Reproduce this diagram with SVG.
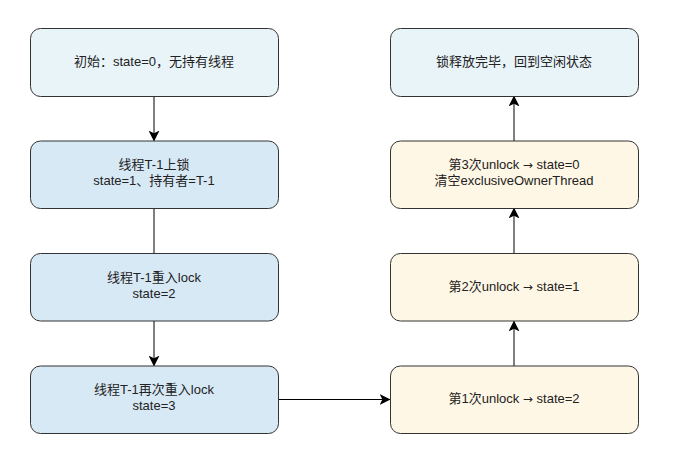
<svg xmlns="http://www.w3.org/2000/svg" width="692" height="461" viewBox="0 0 692 461">
<style>
.n{stroke:#333;stroke-width:1;}
.a{fill:#e9f4f9;}
.b{fill:#d8e9f6;}
.y{fill:#fff7e5;}
text{font-family:"Liberation Sans","Noto Sans CJK SC",sans-serif;font-size:13px;fill:#222;text-anchor:middle;}
.ar{font-family:"DejaVu Sans",sans-serif;font-size:12px;}
.c{stroke:#000;stroke-width:1;fill:none;}
</style>
<defs>
<marker id="ar" viewBox="0 0 10 10" refX="9" refY="5" markerWidth="11" markerHeight="11" markerUnits="userSpaceOnUse" orient="auto">
<path d="M0,0 L10,5 L0,10 L2.5,5 z" fill="#000"/>
</marker>
</defs>
<rect width="692" height="461" fill="#fff"/>
<g id="connectors">
<line class="c" x1="154" y1="96" x2="154" y2="140.5" marker-end="url(#ar)"/>
<line class="c" x1="154" y1="208" x2="154" y2="253"/>
<line class="c" x1="154" y1="321" x2="154" y2="365.5" marker-end="url(#ar)"/>
<line class="c" x1="278" y1="399.5" x2="389.5" y2="399.5" marker-end="url(#ar)"/>
<line class="c" x1="514" y1="366" x2="514" y2="321.5" marker-end="url(#ar)"/>
<line class="c" x1="514" y1="253" x2="514" y2="208.5" marker-end="url(#ar)"/>
<line class="c" x1="514" y1="141" x2="514" y2="96.5" marker-end="url(#ar)"/>
</g>
<g id="n1"><rect class="n a" x="30.5" y="28.5" width="248" height="68" rx="10"/><text x="154" y="66">初始：state=0，无持有线程</text></g>
<g id="n2"><rect class="n b" x="30.5" y="141" width="248" height="67.5" rx="10"/><text x="154" y="169">线程T-1上锁</text><text x="154" y="185">state=1、持有者=T-1</text></g>
<g id="n3"><rect class="n b" x="30.5" y="253.5" width="248" height="67.5" rx="10"/><text x="154" y="282">线程T-1重入lock</text><text x="154" y="298">state=2</text></g>
<g id="n4"><rect class="n b" x="30.5" y="366" width="248" height="67.5" rx="10"/><text x="154" y="394">线程T-1再次重入lock</text><text x="154" y="410">state=3</text></g>
<g id="r1"><rect class="n y" x="390.5" y="366" width="248" height="67.5" rx="10"/><text x="514" y="403">第1次unlock <tspan class="ar">→</tspan> state=2</text></g>
<g id="r2"><rect class="n y" x="390.5" y="253.5" width="248" height="67.5" rx="10"/><text x="514" y="291">第2次unlock <tspan class="ar">→</tspan> state=1</text></g>
<g id="r3"><rect class="n y" x="390.5" y="141" width="248" height="67.5" rx="10"/><text x="514" y="169">第3次unlock <tspan class="ar">→</tspan> state=0</text><text x="514" y="185">清空exclusiveOwnerThread</text></g>
<g id="r4"><rect class="n a" x="390.5" y="28.5" width="248" height="68" rx="10"/><text x="514" y="66">锁释放完毕，回到空闲状态</text></g>
</svg>
